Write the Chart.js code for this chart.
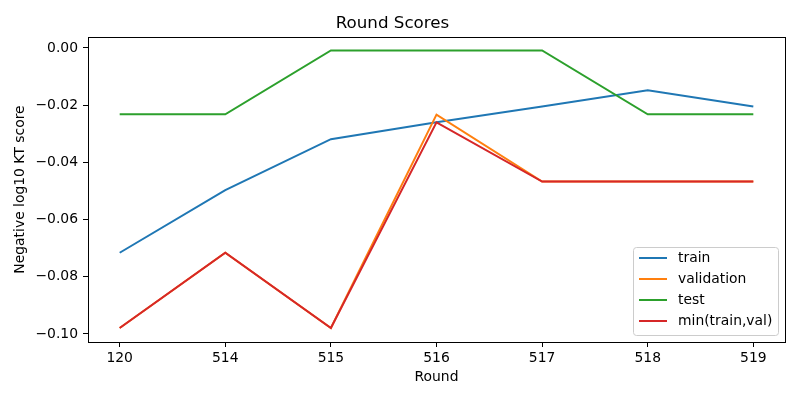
<!DOCTYPE html>
<html>
<head>
<meta charset="utf-8">
<script src="https://cdn.jsdelivr.net/npm/chart.js@4"></script>
<style>
  html, body { margin: 0; padding: 0; background: #ffffff; }
  canvas { display: block; }
</style>
</head>
<body>
<canvas id="myChart" width="800" height="400"></canvas>
<script>
// rounds on the x axis
const rounds = ["120", "514", "515", "516", "517", "518", "519"];

// series values
const train = [-0.0716, -0.0497, -0.0319, -0.0260, -0.0205, -0.0148, -0.0205];
const validation = [-0.0979, -0.0716, -0.0979, -0.0233, -0.0467, -0.0467, -0.0467];
const test = [-0.0232, -0.0232, -0.0009, -0.0009, -0.0009, -0.0232, -0.0232];
const minTrainVal = [-0.0979, -0.0716, -0.0979, -0.0260, -0.0467, -0.0467, -0.0467];

const yTicks = [-0.10, -0.08, -0.06, -0.04, -0.02, 0.00];

const font = "'DejaVu Sans', sans-serif";

function toPoints(values) {
  return values.map(function (v, i) {
    return { x: i, y: v };
  });
}

// box around the plot plus a matplotlib style legend in the lower right
const frameAndLegend = {
  id: "frameAndLegend",
  afterDatasetsDraw(chart) {
    const c = chart.ctx;
    const a = chart.chartArea;
    c.save();
    c.strokeStyle = "#000000";
    c.lineWidth = 1;
    c.strokeRect(Math.round(a.left) + 0.5, Math.round(a.top) + 0.5,
      Math.round(a.right - a.left), Math.round(a.bottom - a.top));

    const x0 = 633.5, y0 = 247.5, w = 145, h = 88, r = 3;
    c.beginPath();
    c.roundRect(x0, y0, w, h, r);
    c.fillStyle = "rgba(255,255,255,0.8)";
    c.fill();
    c.strokeStyle = "#cccccc";
    c.stroke();

    c.font = "13.9px " + font;
    c.textBaseline = "middle";
    c.textAlign = "left";
    chart.data.datasets.forEach(function (ds, i) {
      const yy = 258 + i * 21;
      c.strokeStyle = ds.borderColor;
      c.lineWidth = 2;
      c.beginPath();
      c.moveTo(639, yy);
      c.lineTo(667, yy);
      c.stroke();
      c.fillStyle = "#000000";
      c.fillText(ds.label, 678, yy);
    });
    c.restore();
  },
};

const ctx = document.getElementById("myChart");
new Chart(ctx, {
  type: "line",
  data: {
    datasets: [
      { label: "train", data: toPoints(train), borderColor: "#1f77b4", order: 3 },
      { label: "validation", data: toPoints(validation), borderColor: "#ff7f0e", order: 2 },
      { label: "test", data: toPoints(test), borderColor: "#2ca02c", order: 1 },
      { label: "min(train,val)", data: toPoints(minTrainVal), borderColor: "#d62728", order: 0 },
    ],
  },
  options: {
    responsive: false,
    animation: false,
    devicePixelRatio: 1,
    layout: { padding: { left: 0, right: 15, top: 0, bottom: 0 } },
    elements: {
      line: { borderWidth: 2, tension: 0, fill: false },
      point: { radius: 0, hoverRadius: 0 },
    },
    plugins: {
      legend: { display: false },
      tooltip: { enabled: false },
      title: {
        display: true,
        text: "Round Scores",
        color: "#000000",
        font: { family: font, size: 16.7, weight: "normal" },
        padding: { top: 14, bottom: 3 },
      },
    },
    scales: {
      x: {
        type: "linear",
        min: -0.3,
        max: 6.3,
        afterBuildTicks(scale) {
          scale.ticks = rounds.map(function (r, i) {
            return { value: i };
          });
        },
        afterFit(scale) {
          scale.height = 58;
        },
        ticks: {
          color: "#000000",
          font: { family: font, size: 13.9 },
          padding: 3,
          maxRotation: 0,
          autoSkip: false,
          callback: function (v) {
            return rounds[v];
          },
        },
        grid: {
          display: true,
          drawOnChartArea: false,
          drawTicks: true,
          tickLength: 5,
          tickColor: "#000000",
        },
        border: { display: false },
        title: {
          display: true,
          text: "Round",
          color: "#000000",
          font: { family: font, size: 13.9 },
          padding: { top: 0, bottom: 14 },
        },
      },
      y: {
        min: -0.1028,
        max: 0.0038,
        afterBuildTicks(scale) {
          scale.ticks = yTicks.map(function (v) {
            return { value: v };
          });
        },
        afterFit(scale) {
          scale.width = 88;
        },
        ticks: {
          color: "#000000",
          font: { family: font, size: 13.9 },
          padding: 5,
          callback: function (v) {
            return v.toFixed(2).replace("-", "\u2212");
          },
        },
        grid: {
          display: true,
          drawOnChartArea: false,
          drawTicks: true,
          tickLength: 5,
          tickColor: "#000000",
        },
        border: { display: false },
        title: {
          display: true,
          text: "Negative log10 KT score",
          color: "#000000",
          font: { family: font, size: 13.9 },
          padding: { top: 12, bottom: 0 },
        },
      },
    },
  },
  plugins: [frameAndLegend],
});
</script>
</body>
</html>
